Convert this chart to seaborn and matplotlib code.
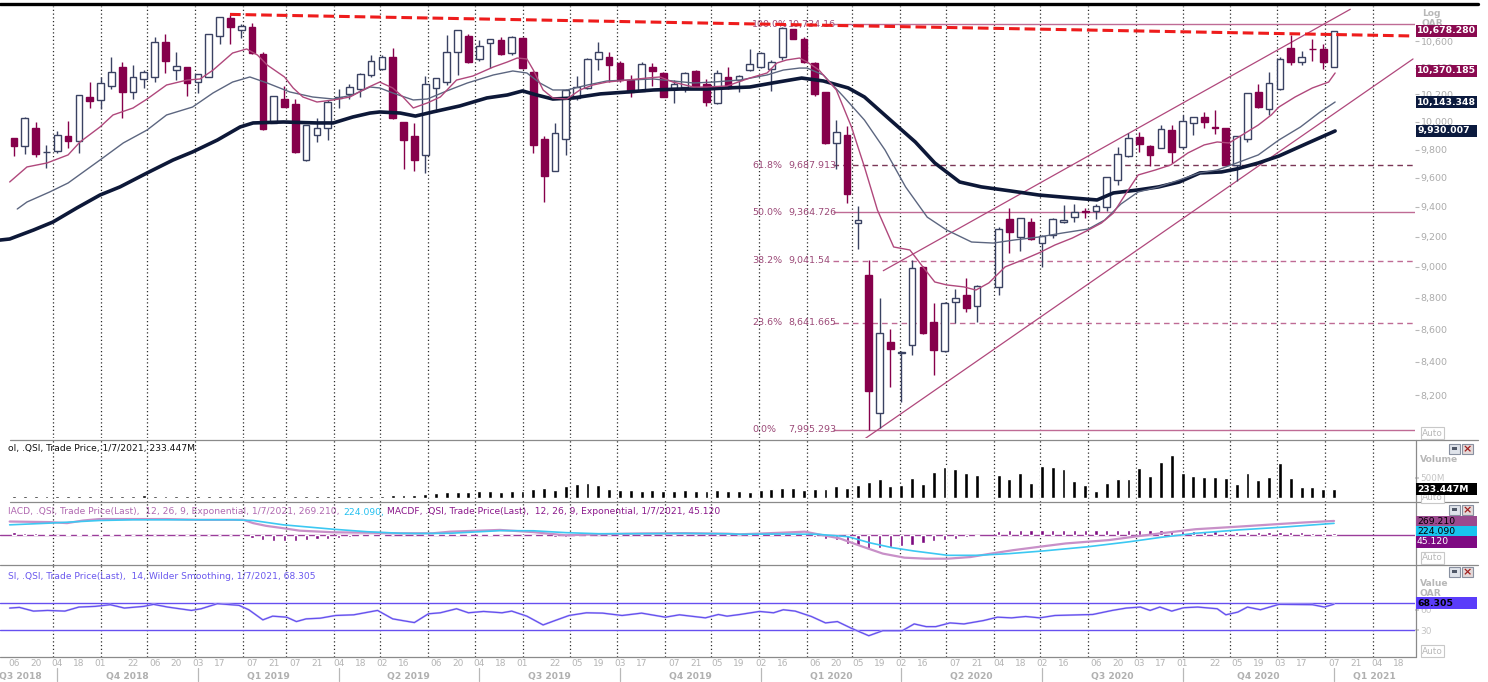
import numpy as np
import pandas as pd
import matplotlib
matplotlib.use("Agg")
import matplotlib.pyplot as plt
import matplotlib.transforms as mtransforms
from matplotlib.patches import Rectangle
from matplotlib.lines import Line2D
from matplotlib.ticker import NullLocator, FixedLocator, FixedFormatter
import seaborn as sns

nan = np.nan

# ---------------- data (weekly .QSI candles, Thursdays) ----------------
first_week = "2018-09-06"
opens = [9885, 9828, 9957, 9780, 9792, 9899, 9864, 10184, 10159, 10262,
         10408, 10216, 10315, 10332, 10598, 10383, 10403, 10295, 10332, 10641,
         10779, 10688, 10709, 10504, 9993, 10166, 10130, 9726, 9904, 9952,
         10171, 10201, 10240, 10345, 10390, 10484, 10001, 9899, 9761, 10245,
         10290, 10522, 10641, 10466, 10585, 10610, 10509, 10628, 10370, 9873,
         9651, 9876, 10171, 10245, 10463, 10479, 10433, 10307, 10228, 10403,
         10363, 10245, 10252, 10375, 10277, 10135, 10327, 10307, 10383, 10403,
         10388, 10479, 10693, 10618, 10438, 10216, 9845, 9904, 9293, 8947,
         8093, 8525, 8457, 8504, 9001, 8645, 8467, 8776, 8817, 8748,
         nan, 8867, 9316, 9195, 9300, 9155, 9211, 9296, 9330, 9370,
         9375, 9402, 9586, 9757, 9892, 9828, 9814, 9940, 9816, 9989,
         10037, 9960, 9952, 9691, 9873, 10220, 10091, 10238, 10547, 10446,
         10544, 10542, 10408]
highs = [9885, 10032, 9996, 9830, 9933, 10006, 10193, 10292, 10332, 10479,
         10441, 10421, 10383, 10636, 10657, 10516, 10403, 10350, 10657, 10792,
         10805, 10735, 10740, 10516, 10191, 10262, 10166, 9976, 10025, 10159,
         10238, 10277, 10358, 10496, 10496, 10547, 10001, 9994, 10337, 10320,
         10649, 10688, 10654, 10610, 10616, 10631, 10641, 10636, 10375, 9897,
         9989, 10238, 10337, 10471, 10598, 10522, 10451, 10345, 10446, 10438,
         10370, 10307, 10370, 10383, 10312, 10383, 10408, 10345, 10539, 10522,
         10459, 10709, 10693, 10631, 10446, 10220, 10013, 9969, 9409, 9045,
         8801, 8601, 8469, 9045, 9005, 8765, 8776, 8854, 8925, 8882,
         nan, 9267, 9391, 9327, 9323, 9211, 9323, 9414, 9421, 9391,
         9421, 9609, 9821, 9916, 9928, 9833, 9976, 9976, 10049, 10037,
         10074, 10086, 9952, 9899, 10213, 10277, 10370, 10484, 10649, 10529,
         10616, 10580, 10683]
lows = [9755, 9766, 9750, 9667, 9773, 9809, 9773, 10098, 10091, 10238,
        10025, 10164, 10250, 10295, 10363, 10307, 10191, 10208, 10327, 10580,
        10580, 10624, 10504, 9940, 9989, 10110, 9773, 9721, 9857, 9869,
        10103, 10164, 10184, 10332, 10383, 10020, 9660, 9651, 9633, 10074,
        10270, 10345, 10433, 10453, 10400, 10496, 10496, 10388, 9773, 9437,
        9646, 9762, 10159, 10240, 10383, 10295, 10295, 10184, 10228, 10262,
        10179, 10135, 10220, 10257, 10115, 10130, 10238, 10220, 10378, 10395,
        10228, 10459, 10616, 10433, 10189, 9840, 9660, 9425, 9115, 7995,
        8005, 8247, 8161, 8443, 8572, 8321, 8463, 8643, 8707, 8650,
        nan, 8817, 9089, 9107, 9178, 9001, 9189, 9293, 9300, 9323,
        9316, 9375, 9551, 9750, 9780, 9686, 9809, 9702, 9804, 9904,
        9957, 9909, 9686, 9581, 9857, 10100, 10049, 10233, 10421, 10421,
        10453, 10388, 10403]
closes = [9826, 10025, 9766, 9783, 9904, 9861, 10193, 10154, 10282, 10368,
          10216, 10327, 10366, 10598, 10453, 10416, 10287, 10350, 10657, 10792,
          10709, 10722, 10509, 9945, 10191, 10110, 9780, 9976, 9952, 10147,
          10184, 10257, 10353, 10451, 10479, 10025, 9869, 9726, 10275, 10320,
          10516, 10688, 10441, 10567, 10616, 10501, 10631, 10395, 9833, 9616,
          9916, 10233, 10252, 10466, 10516, 10421, 10307, 10220, 10428, 10378,
          10184, 10275, 10363, 10265, 10147, 10363, 10245, 10337, 10426, 10514,
          10443, 10701, 10618, 10441, 10203, 9845, 9928, 9489, 9312, 8227,
          8576, 8477, 8463, 8990, 8576, 8473, 8765, 8797, 8734, 8876,
          nan, 9249, 9229, 9323, 9184, 9206, 9316, 9312, 9368, 9364,
          9409, 9605, 9766, 9880, 9840, 9761, 9945, 9785, 10006, 10032,
          9996, 9955, 9691, 9895, 10208, 10105, 10287, 10466, 10446, 10479,
          10539, 10441, 10678]

# volume, millions
volume_m = [55, 60, 55, 60, 55, 60, 60, 55, 60, 55, 60, 60, 90,
            60, 65, 60, 65, 60, 65, 60, 65, 60, 65, 65, 60, 65, 60, 65, 60, 65, 60, 65, 60, 65, 60, 70, 70, 75,
            110, 140, 150, 160, 150, 170, 180, 160, 170, 190, 220, 260, 200, 300, 350, 380, 330, 220, 200, 210,
            190, 200, 180, 190, 200, 180, 190, 200, 190, 180,
            164, 205, 221, 246, 246, 205, 229, 221, 303, 262, 319, 410, 475, 303, 328, 491, 352, 639, 762, 721,
            614, 565, nan,
            573, 475, 631, 369, 795, 778, 713, 434, 328, 188, 385, 467, 483, 737, 557, 885, 1065, 614, 557, 532,
            516, 491, 352, 631, 451, 532, 860, 508, 287, 287, 229, 233]

# MACD histogram (MACDF)
macd_hist = [60, 50, 40, 20, 15, 20, 25, 27, 25, 20, 18, 15, 15, 14, 14, 12, 12, 10, 10, 8, 5,
             -10, -45, -80, -100, -110, -105, -90, -75, -60, -45, -30, -20, -12, -5, -2, 8, 15, 25, 30, 34,
             30, 25, 20, 18, 15, 12, 10, -5, -20, -30, -25, -15, -5, 5, 8, 8, 6, 5, 6, 5, 4, 4, 5, 3, 4, 6, 8,
             40, 30, 40, 40, 40, 20, -30, -60, -95, -160, -190, -250, -240, -220, -200, -180, -140, -115,
             -95, -65, -40, -10, nan,
             75, 95, 100, 100, 105, 100, 100, 100, 100, 95, 100, 100, 100, 100, 100, 100, 100, 90, 85, 80,
             75, 60, 58, 60, 62, 60, 58, 55, 55, 50, 48, 45]

# MACD line and signal (x = candle number)
macd_x = [-0.4, 3.3, 4.9, 6.4, 7.9, 11.0, 14.1, 17.2, 20.2, 21.2, 22.1, 23.3, 24.9, 26.4, 29.5, 32.6,
          35.7, 38.7, 40.3, 44.9, 48, 51, 54, 58, 62, 66, 67.1, 71.1, 73.1, 74.3, 76.3, 78.3, 80.3, 82.3,
          84.3, 86.3, 88.4, 90.3, 92.3, 95.2, 97.2, 101.2, 104.0, 106.0, 109.2, 113.2, 117.2, 119.2, 122.0]
macd_v = [258, 247, 228, 277, 304, 304, 304, 290, 290, 290, 228, 177, 133, 87, 57, 49, 38, 38, 68, 101,
          60, 0, 20, 35, 40, 30, 19, 50, 68, 20, -57, -203, -342, -418, -437, -437, -406, -342, -279, -203,
          -152, -89, -13, 38, 114, 163, 215, 240, 269]
signal_x = [-0.4, 3.3, 7.9, 11.0, 20.2, 22.1, 24.9, 29.5, 32.6, 35.7, 37.2, 40.3, 44.9, 48, 51, 54, 58,
            62, 66, 67.1, 71.1, 74.3, 77.1, 79.1, 81.1, 83.1, 86.3, 89.1, 92.0, 95.2, 99.2, 103.1, 106.0,
            109.2, 113.2, 117.2, 122.0]
signal_v = [196, 228, 277, 290, 290, 277, 196, 114, 68, 38, 34, 38, 87, 85, 50, 30, 30, 35, 28, 19, 25,
            19, -26, -140, -228, -291, -374, -374, -342, -291, -215, -120, -38, 38, 101, 152, 224]

# RSI(14)
rsi_x = [-0.4, 0.5, 1.8, 3.1, 4.7, 6.0, 7.5, 8.9, 10.2, 12.0, 12.9, 14.2, 16.4, 17.3, 18.8, 20.8, 21.7,
         23.0, 23.9, 25.2, 26.1, 27.0, 28.3, 29.7, 31.4, 33.6, 35.0, 35.9, 37.0, 38.3, 39.4, 40.9, 42.0,
         43.4, 45.1, 46.0, 47.4, 48.9, 50.0, 51.3, 52.9, 54.4, 56.2, 58.0, 60.2, 61.5, 63.9, 65.1, 65.9,
         67.1, 68.9, 70.2, 71.1, 72.2, 73.7, 75.0, 76.1, 77.4, 79.0, 80.3, 82.1, 83.2, 84.3, 85.2, 86.5,
         87.8, 89.6, 90.9, 92.2, 93.5, 94.8, 96.2, 99.7, 101.5, 102.8, 104.1, 105.0, 105.9, 107.0, 108.1,
         109.4, 111.2, 112.0, 113.1, 114.0, 115.2, 116.9, 120.0, 121.1, 122.0]
rsi_v = [62.5, 63.5, 58, 59, 58, 64, 65, 67.5, 62.5, 65, 68, 64, 59, 61.5, 69, 66.5, 60, 45, 50.5, 49,
         42.5, 46.5, 47.5, 51.5, 52.5, 59, 46.5, 44, 41, 54, 55.5, 61.5, 55.5, 57.5, 55.5, 58, 50.5, 37.5,
         44, 51.5, 55.5, 55, 51.5, 55, 49, 52.5, 48, 53, 50.5, 53, 57.5, 55.5, 60, 58, 50, 40.5, 42.5, 32.5,
         21.5, 29, 29, 39, 35, 35, 40.5, 39, 44, 49, 48, 50, 48, 51.5, 53, 59, 62.5, 64, 59, 64, 58, 63, 64,
         61.5, 52.5, 56.5, 64, 60, 68, 67.5, 64, 68.3]

# moving averages drawn on the price pane
ma_fast_x = [-0.4, 1.2, 3.05, 5.0, 6.1, 7.95, 9.15, 11.0, 12.3, 14.1, 16.0, 17.2, 18.4, 20.2, 21.5, 22.5,
             23.4, 25.0, 25.8, 26.7, 28.0, 29.5, 31.05, 32.6, 33.8, 35.0, 35.95, 36.9, 38.2, 39.4, 40.9,
             42.4, 44.3, 45.6, 46.5, 47.4, 48.0, 48.9, 49.8, 51.1, 52.3, 53.5, 54.8, 56.7, 58.5, 59.7, 60.9,
             62.8, 64.0, 65.9, 68.0, 69.6, 70.5, 71.4, 72.6, 73.3, 74.4, 76.0, 77.4, 78.6, 79.8, 81.3, 82.8,
             84.0, 85.1, 86.2, 87.8, 88.9, 90.1, 91.6, 93.2, 94.7, 96.2, 97.8, 99.3, 100.5, 101.6, 102.8,
             103.9, 105.5, 106.9, 108.5, 110.0, 111.2, 112.3, 113.5, 115.0, 116.2, 116.9, 118.4, 120.0,
             121.5, 122.1]
ma_fast_v = [9572, 9677, 9705, 9762, 9854, 9962, 10049, 10100, 10166, 10270, 10307, 10315, 10382, 10511,
             10542, 10496, 10420, 10330, 10248, 10181, 10144, 10159, 10181, 10248, 10292, 10248, 10181,
             10100, 10137, 10181, 10307, 10337, 10405, 10443, 10473, 10466, 10382, 10233, 10174, 10166,
             10233, 10270, 10292, 10307, 10322, 10330, 10292, 10255, 10255, 10263, 10322, 10360, 10435,
             10458, 10473, 10443, 10382, 10233, 9962, 9677, 9379, 9131, 9111, 9000, 8902, 8883, 8870, 8850,
             8896, 9000, 9045, 9091, 9144, 9190, 9244, 9291, 9358, 9496, 9621, 9656, 9691, 9776, 9833, 9854,
             9847, 9904, 9976, 10049, 10107, 10181, 10248, 10292, 10360]
ma_mid_x = [0.3, 1.2, 3.3, 5.0, 7.95, 10.1, 12.3, 14.1, 16.5, 18.4, 20.2, 21.8, 23.4, 25.5, 27.6, 29.5,
            31.3, 32.9, 33.8, 35.0, 36.9, 38.2, 40.0, 41.9, 44.3, 46.1, 47.4, 48.6, 49.8, 51.1, 53.0, 54.8,
            56.7, 59.1, 60.9, 62.8, 64.6, 67.1, 69.6, 71.1, 72.6, 73.3, 74.8, 76.7, 78.6, 80.5, 82.4, 84.4,
            86.2, 88.5, 90.5, 92.4, 94.7, 96.9, 99.3, 100.8, 102.3, 103.9, 105.8, 107.7, 109.6, 111.2,
            113.0, 115.0, 116.9, 118.9, 120.7, 122.1]
ma_mid_v = [9386, 9434, 9503, 9565, 9726, 9847, 9940, 10049, 10107, 10211, 10292, 10330, 10285, 10218,
            10181, 10166, 10196, 10255, 10248, 10211, 10159, 10166, 10226, 10285, 10345, 10375, 10360,
            10285, 10233, 10233, 10270, 10300, 10307, 10315, 10300, 10285, 10292, 10307, 10345, 10382,
            10397, 10397, 10345, 10181, 10012, 9797, 9538, 9331, 9244, 9164, 9157, 9177, 9197, 9224, 9251,
            9311, 9420, 9503, 9538, 9586, 9635, 9656, 9705, 9762, 9868, 9962, 10070, 10144]
ma_slow_x = [-1.3, -0.4, 1.8, 3.6, 5.8, 7.95, 9.8, 12.3, 14.7, 16.5, 18.8, 20.9, 22.1, 24.9, 28.0, 29.5,
             31.3, 32.9, 33.8, 35.7, 37.1, 38.7, 41.2, 43.7, 45.6, 47.0, 48.3, 49.8, 51.7, 54.2, 56.7, 59.1,
             61.6, 64.0, 65.9, 68.0, 70.1, 72.8, 74.8, 77.1, 78.6, 81.0, 83.3, 85.1, 87.4, 89.4, 92.1, 94.7,
             97.8, 100.1, 101.6, 103.9, 105.8, 107.7, 109.6, 111.6, 113.0, 115.0, 116.9, 119.6, 122.1]
ma_slow_v = [9177, 9184, 9244, 9298, 9393, 9482, 9538, 9635, 9726, 9783, 9868, 9962, 9991, 9998, 9991,
             9991, 10034, 10063, 10071, 10063, 10041, 10071, 10115, 10174, 10196, 10226, 10196, 10166,
             10174, 10204, 10218, 10233, 10240, 10240, 10248, 10255, 10285, 10322, 10300, 10248, 10181,
             10012, 9854, 9705, 9572, 9538, 9510, 9482, 9462, 9448, 9496, 9517, 9538, 9572, 9635, 9642,
             9663, 9705, 9754, 9847, 9933]

# Fibonacci retracement levels
fib_pct = ["100.0%", "61.8%", "50.0%", "38.2%", "23.6%", "0.0%"]
fib_val = [10734.16, 9687.913, 9364.726, 9041.54, 8641.665, 7995.293]
fib_lab = ["10,734.16", "9,687.913", "9,364.726", "9,041.54", "8,641.665", "7,995.293"]

# trend lines (candle number, price)
resist_x, resist_y = [19.96, 129.3], [10810, 10642]
chan_up_x, chan_up_y = [80.34, 123.5], [8975, 10850]
chan_lo_x, chan_lo_y = [78.6, 129.3], [7943, 10466]

# last values shown on the right
last_close, last_fast, last_mid, last_slow = "10,678.280", "10,370.185", "10,143.348", "9,930.007"
last_vol, last_macd, last_sig, last_hist, last_rsi = "233.447M", "269.210", "224.090", "45.120", "68.305"

# axis labels: dates shown under the panes
label_dates = ["2018-09-06", "2018-09-20", "2018-10-04", "2018-10-18", "2018-11-01", "2018-11-22",
               "2018-12-06", "2018-12-20", "2019-01-03", "2019-01-17", "2019-02-07", "2019-02-21",
               "2019-03-07", "2019-03-21", "2019-04-04", "2019-04-18", "2019-05-02", "2019-05-16",
               "2019-06-06", "2019-06-20", "2019-07-04", "2019-07-18", "2019-08-01", "2019-08-22",
               "2019-09-05", "2019-09-19", "2019-10-03", "2019-10-17", "2019-11-07", "2019-11-21",
               "2019-12-05", "2019-12-19", "2020-01-02", "2020-01-16", "2020-02-06", "2020-02-20",
               "2020-03-05", "2020-03-19", "2020-04-02", "2020-04-16", "2020-05-07", "2020-05-21",
               "2020-06-04", "2020-06-18", "2020-07-02", "2020-07-16", "2020-08-06", "2020-08-20",
               "2020-09-03", "2020-09-17", "2020-10-01", "2020-10-22", "2020-11-05", "2020-11-19",
               "2020-12-03", "2020-12-17", "2021-01-07", "2021-01-21", "2021-02-04", "2021-02-18"]
quarter_lab = ["Q3 2018", "Q4 2018", "Q1 2019", "Q2 2019", "Q3 2019", "Q4 2019", "Q1 2020", "Q2 2020",
               "Q3 2020", "Q4 2020", "Q1 2021"]
quarter_start = ["2018-10-04", "2019-01-03", "2019-04-04", "2019-07-04", "2019-10-03", "2020-01-02",
                 "2020-04-02", "2020-07-02", "2020-10-01", "2021-01-07"]

# ---------------- style ----------------
sns.set_theme(style="white")
plt.rcParams['font.family'] = ['DejaVu Sans']
plt.rcParams['axes.linewidth'] = 0

MAROON = '#86004b'
HOLLOW = '#3a4262'
MA_FAST = '#b0487c'
MA_MID = '#5c6680'
MA_SLOW = '#0d1838'
RED = '#ee1c1c'
FIB = '#bf6b95'
FIB_TXT = '#9c4a78'
GRAYTXT = '#ababab'

W, H = 1488, 682
fig = plt.figure(figsize=(W / 100, H / 100), dpi=100)
fig.patch.set_facecolor('white')


def fx(x):
    return x / W


def fy(y):
    return 1 - y / H


t0 = pd.Timestamp(first_week)


def wk(d):
    """position of a date on the weekly candle axis"""
    return (pd.Timestamp(d) - t0).days / 7.0


PX0, PX1 = 0, 1415
XSTEP, XFIRST = 10.82, 14.0
XLIM = ((PX0 - XFIRST) / XSTEP, (PX1 - XFIRST) / XSTEP)


def pane(top, bottom):
    a = fig.add_axes([fx(PX0), fy(bottom), fx(PX1 - PX0), (bottom - top) / H])
    a.set_facecolor('none')
    for s in a.spines.values():
        s.set_visible(False)
    a.set_xlim(*XLIM)
    a.set_xticks([])
    a.tick_params(axis='both', which='both', length=0, labelsize=6.5, labelcolor=GRAYTXT)
    return a


ax = pane(6, 438)
axv = pane(440, 502)
axm = pane(502, 565)
axr = pane(565, 657)

# vertical dotted grid at each month start
month_grid = [wk(d) for d in pd.date_range("2018-10-01", "2021-02-01", freq="MS")]
for a in (ax, axv, axm, axr):
    for g in month_grid:
        a.axvline(g, color='#2a2a2a', lw=0.9, ls=(0, (1, 2)), zorder=1)

# ---------------- price pane ----------------
ax.set_yscale('log')
ax.set_ylim(7949, 10876)
ax.yaxis.set_minor_locator(NullLocator())
price_ticks = list(range(8200, 10601, 200))
ax.yaxis.set_major_locator(FixedLocator(price_ticks))
ax.yaxis.set_major_formatter(FixedFormatter([f"{v:,}" for v in price_ticks]))
ax.yaxis.tick_right()
ax.tick_params(axis='y', length=3, width=0.8, color='#b8b8b8', pad=1, labelsize=6.8, labelcolor=GRAYTXT)

o = np.array(opens, float); h = np.array(highs, float)
l = np.array(lows, float); c = np.array(closes, float)
xi = np.arange(len(o))
ok = ~np.isnan(o)
up = ok & (c >= o)
dn = ok & (c < o)

ax.vlines(xi[up], l[up], h[up], color=HOLLOW, lw=1, zorder=4)
ax.vlines(xi[dn], l[dn], h[dn], color=MAROON, lw=1, zorder=4)
ax.bar(xi[up], np.maximum(c[up] - o[up], 0.5), bottom=o[up], width=0.62, color='white',
       edgecolor=HOLLOW, lw=1, zorder=5)
ax.bar(xi[dn], np.maximum(o[dn] - c[dn], 0.5), bottom=c[dn], width=0.62, color=MAROON,
       edgecolor=MAROON, lw=1, zorder=5)

sns.lineplot(x=ma_slow_x, y=ma_slow_v, ax=ax, color=MA_SLOW, lw=2.6, sort=False, estimator=None,
             legend=False, zorder=6)
sns.lineplot(x=ma_mid_x, y=ma_mid_v, ax=ax, color=MA_MID, lw=1.0, sort=False, estimator=None,
             legend=False, zorder=6)
sns.lineplot(x=ma_fast_x, y=ma_fast_v, ax=ax, color=MA_FAST, lw=1.0, sort=False, estimator=None,
             legend=False, zorder=6)

# Fibonacci levels
fib_x0 = (833 - XFIRST) / XSTEP
styles = ['-', (0, (4, 3)), '-', (0, (4, 3)), (0, (4, 3)), '-']
fcolors = [FIB, '#7a3656', FIB, FIB, FIB, FIB]
for val, pct, lab, st, fc in zip(fib_val, fib_pct, fib_lab, styles, fcolors):
    ax.hlines(val, fib_x0, XLIM[1], color=fc, lw=1.0, linestyles=st, zorder=3)
    ax.text((752 - XFIRST) / XSTEP, val, pct, color=FIB_TXT, fontsize=6.8, va='center', ha='left', zorder=7)
    ax.text((788 - XFIRST) / XSTEP, val, lab, color=FIB_TXT, fontsize=6.8, va='center', ha='left', zorder=7)

ax.plot(chan_up_x, chan_up_y, color=MA_FAST, lw=0.9, zorder=3)
ax.plot(chan_lo_x, chan_lo_y, color=MA_FAST, lw=0.9, zorder=3)
ax.plot(resist_x, resist_y, color=RED, lw=2.2, ls=(0, (3.5, 1.6)), zorder=8)
ax.set_xlim(*XLIM)

# ---------------- volume pane ----------------
vol = np.array(volume_m, float) * 1e6
axv.bar(xi, vol, width=0.36, color='black', zorder=4)
axv.set_ylim(-91e6, 1432e6)
axv.yaxis.tick_right()
axv.set_yticks([500e6])
axv.set_yticklabels(['500M'])
axv.tick_params(axis='y', length=3, color='#c8c8c8', pad=1, labelsize=6.3, labelcolor='#c4c4c4')
axv.text(0.0057, 0.87, "ol, .QSI, Trade Price, 1/7/2021, 233.447M", transform=axv.transAxes,
         fontsize=6.6, color='#111111', va='center', ha='left')

# ---------------- MACD pane ----------------
axm.set_ylim(-555, 623)
axm.axhline(0, color='#9a3c9a', lw=1.0, zorder=3)
axm.bar(xi, np.array(macd_hist, float), width=0.3, color='#7d0a80', zorder=4)
sns.lineplot(x=macd_x, y=macd_v, ax=axm, color='#c890c8', lw=1.6, sort=False, estimator=None,
             legend=False, zorder=5)
sns.lineplot(x=signal_x, y=signal_v, ax=axm, color='#3cc8f2', lw=1.2, sort=False, estimator=None,
             legend=False, zorder=5)
axm.set_yticks([])

fig.canvas.draw()
rend = fig.canvas.get_renderer()
pieces = [("IACD, .QSI, Trade Price(Last),  12, 26, 9, Exponential, 1/7/2021, 269.210,", '#b068b0'),
          ("224.090,", '#22c0f0'),
          ("MACDF, .QSI, Trade Price(Last),  12, 26, 9, Exponential, 1/7/2021, 45.120", '#8a168a')]
xpos = fx(8)
for s, col in pieces:
    t = fig.text(xpos, fy(512), s, color=col, fontsize=6.6, va='center', ha='left')
    bb = t.get_window_extent(renderer=rend)
    xpos = (bb.x1 + 3.5) / W

# ---------------- RSI pane ----------------
axr.set_ylim(-10, 126.3)
axr.axhline(70, color='#6650f0', lw=1.0, zorder=3)
axr.axhline(30, color='#6650f0', lw=1.0, zorder=3)
sns.lineplot(x=rsi_x, y=rsi_v, ax=axr, color='#cfc8fa', lw=1.5, sort=False, estimator=None,
             legend=False, zorder=4)
sns.lineplot(x=rsi_x, y=rsi_v, ax=axr, color='#6450ee', lw=0.9, sort=False, estimator=None,
             legend=False, zorder=5)
axr.yaxis.tick_right()
axr.set_yticks([30, 60])
axr.set_yticklabels(['30', '60'])
axr.tick_params(axis='y', length=3, color='#c8c8c8', pad=1, labelsize=6.5, labelcolor='#c4c4c4')
axr.text(0.0057, 0.87, "SI, .QSI, Trade Price(Last),  14, Wilder Smoothing, 1/7/2021, 68.305",
         transform=axr.transAxes, fontsize=6.6, color='#6a58ee', va='center', ha='left')

# bottom date axis
btr = mtransforms.blended_transform_factory(axr.transData, fig.transFigure)
for d in label_dates:
    axr.text(wk(d), fy(664), pd.Timestamp(d).strftime("%d"), transform=btr, ha='center', va='center',
             fontsize=6.5, color='#b4b4b4', clip_on=False)
qs = [wk(d) for d in quarter_start]
bounds = [XLIM[0] - 1.6] + qs + [XLIM[1]]
for i, s in enumerate(quarter_lab):
    axr.text((bounds[i] + bounds[i + 1]) / 2, fy(676), s, transform=btr, ha='center', va='center',
             fontsize=6.6, color='#b0b0b0', fontweight='bold', clip_on=False)
for p in qs:
    axr.add_line(Line2D([p, p], [fy(668), fy(681)], transform=btr, color='#b8b8b8', lw=0.9, clip_on=False))


# ---------------- frame lines ----------------
def hline(y, x0, x1, color, lw):
    fig.add_artist(Line2D([fx(x0), fx(x1)], [fy(y), fy(y)], color=color, lw=lw))


hline(4, 0, 1478, 'black', 2.4)
hline(439.5, 10, 1478, '#8a8a8a', 0.9)
hline(502, 10, 1478, '#8a8a8a', 0.9)
hline(565, 0, 1478, '#8a8a8a', 0.9)
hline(657, 0, 1416, '#8a8a8a', 0.9)
fig.add_artist(Line2D([fx(1415.5), fx(1415.5)], [fy(440), fy(657)], color='#8a8a8a', lw=0.9))


# ---------------- right side value boxes and labels ----------------
def vbox(y, text, fc, tc, bold=True):
    fig.add_artist(Rectangle((fx(1415.5), fy(y + 6.2)), fx(61), 12.4 / H, fc=fc, ec='none', zorder=10))
    fig.text(fx(1417), fy(y), text, color=tc, fontsize=6.7, va='center', ha='left',
             fontweight='bold' if bold else 'normal', zorder=11)


def gtext(x, y, s, bold=True, size=6.6, color='#b8b8b8'):
    fig.text(fx(x), fy(y), s, color=color, fontsize=size, va='center', ha='left',
             fontweight='bold' if bold else 'normal', zorder=9)


def autobox(y):
    fig.text(fx(1422), fy(y), "Auto", color='#b8b8b8', fontsize=6.4, va='center', ha='left', zorder=9,
             bbox=dict(boxstyle='square,pad=0.12', fc='white', ec='#c8c8c8', lw=0.8))


def icons(y):
    fig.add_artist(Rectangle((fx(1449), fy(y + 5)), fx(11), 10 / H, fc='#dfe3ea', ec='#8890a0', lw=0.8))
    fig.add_artist(Rectangle((fx(1452), fy(y + 1)), fx(5), 3 / H, fc='#505868', ec='none'))
    fig.add_artist(Rectangle((fx(1462), fy(y + 5)), fx(11), 10 / H, fc='#e4d8d8', ec='#8890a0', lw=0.8))
    fig.text(fx(1467.5), fy(y), "×", color='#a02020', fontsize=8, fontweight='bold', va='center',
             ha='center')


gtext(1422, 13, "Log")
gtext(1422, 24, "OAR")
vbox(31, last_close, '#8a0a50', 'white')
vbox(71, last_fast, '#8a0a50', 'white')
vbox(102, last_mid, '#0b1a3e', 'white')
vbox(131, last_slow, '#0b1a3e', 'white')
autobox(433)

icons(449)
gtext(1420, 459, "Volume")
vbox(489, last_vol, 'black', 'white')
autobox(497)

icons(510)
vbox(522, last_macd, '#9a4a8e', 'black', bold=False)
vbox(532, last_sig, '#18c4ee', 'black', bold=False)
vbox(542, last_hist, '#7e0a82', 'white', bold=False)
autobox(558)

icons(572)
gtext(1420, 584, "Value")
gtext(1420, 594, "OAR")
vbox(603, last_rsi, '#5a3cfa', 'black')
autobox(651)

fig.savefig("out.png", dpi=100, facecolor='white')
